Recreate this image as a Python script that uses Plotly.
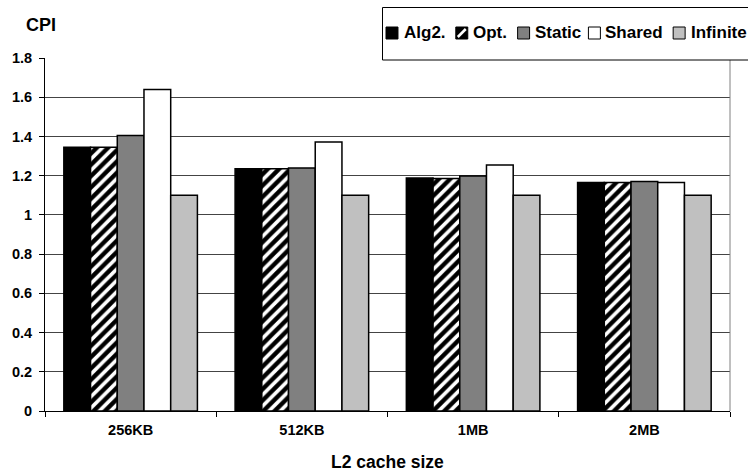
import plotly.graph_objects as go

# L2 cache sizes on the x axis
cache_sizes = ["256KB", "512KB", "1MB", "2MB"]

# CPI per scheme
cpi_alg2 = [1.345, 1.235, 1.188, 1.165]
cpi_opt = [1.345, 1.235, 1.185, 1.165]
cpi_static = [1.405, 1.239, 1.198, 1.170]
cpi_shared = [1.640, 1.372, 1.254, 1.165]
cpi_infinite = [1.100, 1.100, 1.100, 1.100]

series_names = ["Alg2.", "Opt.", "Static", "Shared", "Infinite"]
y_ticks = [0, 0.2, 0.4, 0.6, 0.8, 1, 1.2, 1.4, 1.6, 1.8]

# styling
FONT = "Liberation Sans, Arial, sans-serif"
W, H = 748, 473
ML, MR, MT, MB = 43, 18, 58, 62
PW, PH = W - ML - MR, H - MT - MB

fills = ["#000000", "#000000", "#808080", "#ffffff", "#c0c0c0"]


def px2x(px):
    return (px - ML) / PW


def py2y(py):
    return (H - MB - py) / PH


series_vals = [cpi_alg2, cpi_opt, cpi_static, cpi_shared, cpi_infinite]

fig = go.Figure()
for i, (name, vals) in enumerate(zip(series_names, series_vals)):
    marker = dict(color=fills[i], line=dict(color="#000000", width=1.5))
    if name == "Opt.":
        # white diagonal stripes on black
        marker["color"] = "#ffffff"
        marker["pattern"] = dict(shape="/", bgcolor="#000000", fgcolor="#ffffff",
                                 fgopacity=1, size=8, solidity=0.45,
                                 fillmode="replace")
    fig.add_trace(go.Bar(x=cache_sizes, y=vals, name=name, marker=marker,
                         showlegend=False))

fig.update_layout(
    width=W, height=H,
    margin=dict(l=ML, r=MR, t=MT, b=MB, pad=0),
    paper_bgcolor="white", plot_bgcolor="white",
    barmode="group", bargap=0.22, bargroupgap=0,
    font=dict(family=FONT, color="#000000"),
    xaxis=dict(
        type="category", showgrid=False, zeroline=False,
        showline=True, linecolor="#000000", linewidth=1,
        ticks="outside", tickson="boundaries", ticklen=5,
        tickcolor="#000000", tickwidth=1,
        tickfont=dict(family=FONT, size=14.5, weight="bold"),
        ticklabelstandoff=6,
    ),
    yaxis=dict(
        range=[0, 1.8], tickvals=y_ticks,
        ticktext=[f"{v:g}" for v in y_ticks],
        showgrid=True, gridcolor="#444444", gridwidth=1,
        zeroline=False, showline=True, linecolor="#000000", linewidth=1,
        ticks="outside", ticklen=5, tickcolor="#000000", tickwidth=1,
        tickfont=dict(family=FONT, size=14.5, weight="bold"),
        ticklabelstandoff=4,
    ),
)

shapes = [
    # right border of the plot area
    dict(type="line", xref="paper", yref="paper", x0=1, x1=1, y0=0, y1=1,
         line=dict(color="#808080", width=1), layer="above"),
    # legend frame
    dict(type="rect", xref="paper", yref="paper",
         x0=px2x(381.5), x1=px2x(770), y0=py2y(60), y1=py2y(7.5),
         fillcolor="white", line=dict(color="#000000", width=1), layer="above"),
]

annotations = [
    dict(text="CPI", xref="paper", yref="paper", x=px2x(21.5), y=py2y(25),
         xanchor="left", yanchor="middle", showarrow=False,
         font=dict(family=FONT, size=18, weight="bold")),
    dict(text="L2 cache size", xref="paper", yref="paper", x=px2x(386.5), y=py2y(462),
         xanchor="center", yanchor="middle", showarrow=False,
         font=dict(family=FONT, size=17.5, weight="bold")),
]

# legend entries: swatch left edges and label starts (px)
swatch_left = [385, 455, 517, 588, 673]
label_left = [402, 471.5, 533, 604, 689.5]
legend_cy = 33
sw = 12
for i, name in enumerate(series_names):
    x0 = swatch_left[i]
    shapes.append(dict(type="rect", xref="paper", yref="paper",
                       x0=px2x(x0), x1=px2x(x0 + sw),
                       y0=py2y(legend_cy + sw / 2), y1=py2y(legend_cy - sw / 2),
                       fillcolor=fills[i], line=dict(color="#000000", width=1),
                       layer="above"))
    if name == "Opt.":
        shapes.append(dict(type="line", xref="paper", yref="paper",
                           x0=px2x(x0 + 2), x1=px2x(x0 + sw - 2),
                           y0=py2y(legend_cy + sw / 2 - 2), y1=py2y(legend_cy - sw / 2 + 2),
                           line=dict(color="#ffffff", width=2.5), layer="above"))
    annotations.append(dict(text=name, xref="paper", yref="paper",
                            x=px2x(label_left[i] - 1), y=py2y(legend_cy),
                            xanchor="left", yanchor="middle", showarrow=False,
                            font=dict(family=FONT, size=17, weight="bold")))

fig.update_layout(shapes=shapes, annotations=annotations)

fig.write_html("out.html")
